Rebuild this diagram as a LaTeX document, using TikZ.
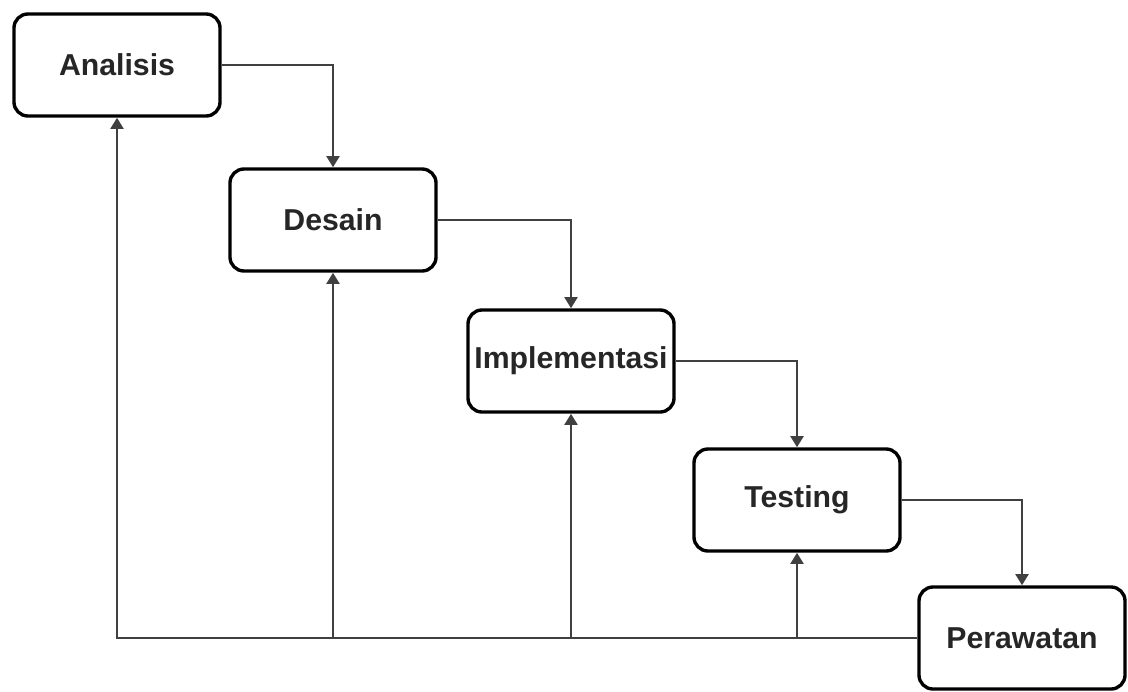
\documentclass[tikz,border=0pt]{standalone}
\usepackage{fontspec}
\setmainfont{Liberation Sans}
\usetikzlibrary{arrows.meta, positioning}

\begin{document}
\begin{tikzpicture}[
    x=0.025cm, y=-0.025cm,
    phase/.style={rectangle, draw=black, line width=2.4pt, rounded corners=0.35cm, minimum width=5.15cm, minimum height=2.55cm, align=center, font=\fontsize{21.5}{25}\selectfont\bfseries, text=black!85, fill=white},
    arrow/.style={-{Triangle[width=0.32cm, length=0.28cm]}, line width=2pt, draw=black!75},
    line/.style={line width=2pt, draw=black!75}
]
\useasboundingbox (0,0) rectangle (1128,691);

% ==== Phases ====
\node[phase] (analisis) at (117,65) {Analisis};
\node[phase] (desain) at (333,220) {Desain};
\node[phase] (implementasi) at (571,361) {Implementasi};
\node[phase] (testing) at (797,500) {Testing};
\node[phase] (perawatan) at (1022,638) {Perawatan};

% ==== Forward flow ====
\draw[arrow] (analisis.east) -| (desain.north);
\draw[arrow] (desain.east) -| (implementasi.north);
\draw[arrow] (implementasi.east) -| (testing.north);
\draw[arrow] (testing.east) -| (perawatan.north);

% ==== Feedback ====
\draw[arrow] (perawatan.west) -| (analisis.south);
\draw[arrow] (desain.south |- perawatan.west) -- (desain.south);
\draw[arrow] (implementasi.south |- perawatan.west) -- (implementasi.south);
\draw[arrow] (testing.south |- perawatan.west) -- (testing.south);

\end{tikzpicture}
\end{document}
